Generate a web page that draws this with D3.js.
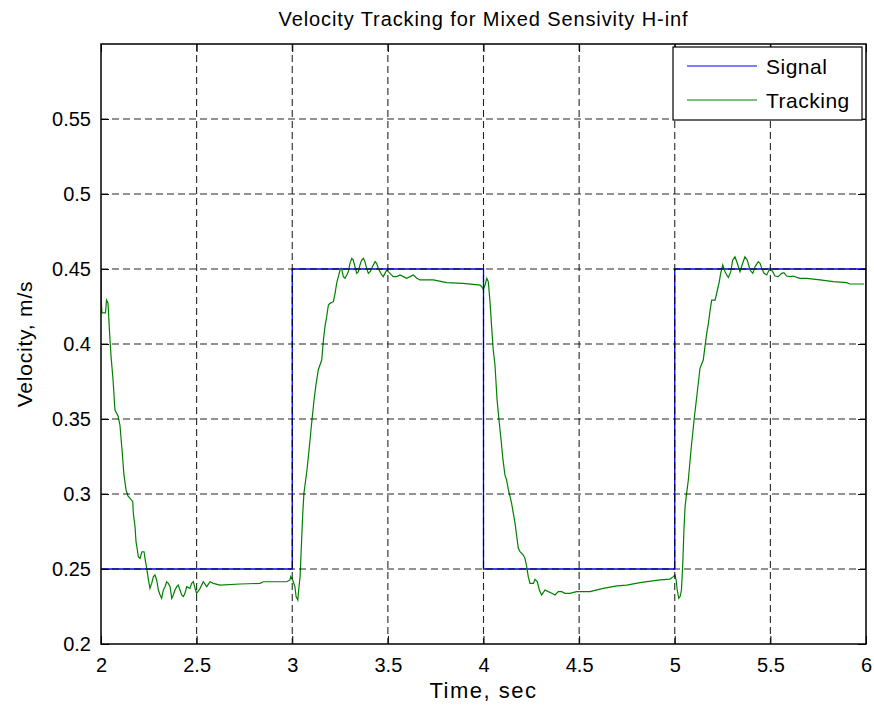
<!DOCTYPE html>
<html>
<head>
<meta charset="utf-8">
<script src="https://cdn.jsdelivr.net/npm/d3@7"></script>
<style>
  body { margin: 0; background: #fff; }
  svg { display: block; font-family: "Liberation Sans", Arial, sans-serif; }
</style>
</head>
<body>
<div id="chart"></div>
<script>
var width = 874,
    height = 707;

// reference signal (square wave)
var signalT = [2, 3, 3, 4, 4, 5, 5, 6, 6];
var signalV = [0.25, 0.25, 0.45, 0.45, 0.25, 0.25, 0.45, 0.45, 0.25];

// controller tracking response
var trackT = [2.000, 2.0005, 2.005, 2.0235, 2.029, 2.0366, 2.044, 2.052, 2.063, 2.073, 2.089, 2.099, 2.110, 2.120, 2.131, 2.141,
  2.152, 2.166, 2.169, 2.178, 2.183, 2.190, 2.195, 2.204, 2.214, 2.225, 2.230, 2.239, 2.248, 2.256, 2.265, 2.274, 2.282, 2.291,
  2.300, 2.309, 2.317, 2.326, 2.335, 2.343, 2.352, 2.361, 2.370, 2.378, 2.387, 2.396, 2.404, 2.413, 2.422, 2.431, 2.439, 2.448,
  2.465, 2.474, 2.483, 2.492, 2.500, 2.518, 2.535, 2.553, 2.570, 2.587, 2.622, 2.727, 2.831, 2.849, 2.971, 2.988, 2.992, 3.002,
  3.014, 3.020, 3.029, 3.032, 3.041, 3.049, 3.055, 3.061, 3.077, 3.093, 3.103, 3.114, 3.124, 3.136, 3.154, 3.163, 3.171, 3.180,
  3.189, 3.197, 3.215, 3.224, 3.232, 3.241, 3.250, 3.258, 3.267, 3.276, 3.285, 3.293, 3.302, 3.311, 3.319, 3.328, 3.337, 3.346,
  3.354, 3.363, 3.372, 3.380, 3.389, 3.398, 3.407, 3.415, 3.424, 3.433, 3.441, 3.450, 3.459, 3.468, 3.476, 3.485, 3.494, 3.502,
  3.511, 3.528, 3.546, 3.563, 3.581, 3.598, 3.616, 3.633, 3.651, 3.668, 3.738, 3.808, 3.894, 3.982, 3.991, 3.999, 4.008, 4.017,
  4.025, 4.034, 4.043, 4.051, 4.060, 4.071, 4.081, 4.092, 4.102, 4.112, 4.121, 4.130, 4.139, 4.147, 4.156, 4.165, 4.174, 4.182,
  4.191, 4.208, 4.217, 4.226, 4.234, 4.243, 4.261, 4.269, 4.281, 4.292, 4.304, 4.322, 4.339, 4.357, 4.374, 4.391, 4.409, 4.426,
  4.452, 4.487, 4.557, 4.626, 4.697, 4.749, 4.818, 4.923, 4.975, 4.993, 5.001, 5.007, 5.013, 5.021, 5.028, 5.035, 5.042, 5.048,
  5.054, 5.062, 5.071, 5.085, 5.101, 5.116, 5.132, 5.149, 5.158, 5.167, 5.176, 5.184, 5.193, 5.211, 5.223, 5.233, 5.240, 5.251,
  5.263, 5.272, 5.280, 5.293, 5.303, 5.315, 5.327, 5.341, 5.355, 5.367, 5.379, 5.394, 5.408, 5.420, 5.437, 5.446, 5.455, 5.467,
  5.481, 5.489, 5.498, 5.512, 5.524, 5.541, 5.559, 5.571, 5.585, 5.603, 5.620, 5.638, 5.655, 5.690, 5.760, 5.829, 5.899, 5.916,
  5.990];
var trackV = [0.4507, 0.4293, 0.4207, 0.4207, 0.4293, 0.4273, 0.4093, 0.3927, 0.376, 0.356, 0.352, 0.346, 0.3293, 0.3127, 0.3027, 0.2987,
  0.2971, 0.2949, 0.2871, 0.2782, 0.2682, 0.2627, 0.2582, 0.2571, 0.2615, 0.2615, 0.2571, 0.2504, 0.2427, 0.2371, 0.2404, 0.2449, 0.246, 0.2427,
  0.236, 0.2327, 0.2304, 0.236, 0.2382, 0.2415, 0.2404, 0.2382, 0.2304, 0.2327, 0.236, 0.2382, 0.2393, 0.236, 0.2327, 0.2316, 0.2338, 0.2382,
  0.2371, 0.2404, 0.2415, 0.2371, 0.2338, 0.2371, 0.2415, 0.2382, 0.2415, 0.2404, 0.2393, 0.240, 0.2404, 0.2415, 0.2415, 0.2427, 0.2449, 0.2427,
  0.2382, 0.2316, 0.2293, 0.2338, 0.2449, 0.2693, 0.2871, 0.3004, 0.316, 0.336, 0.3493, 0.3627, 0.3727, 0.3827, 0.3893, 0.4027, 0.4116, 0.4182,
  0.426, 0.4271, 0.4282, 0.4338, 0.4404, 0.4449, 0.4493, 0.4504, 0.4449, 0.4438, 0.446, 0.4482, 0.4538, 0.4571, 0.456, 0.4515, 0.4471, 0.4482,
  0.4527, 0.456, 0.4571, 0.4549, 0.4504, 0.4471, 0.4482, 0.4504, 0.4527, 0.4549, 0.4538, 0.4504, 0.4482, 0.446, 0.4449, 0.4471, 0.4493, 0.4482,
  0.4471, 0.4449, 0.4449, 0.446, 0.4449, 0.4438, 0.4449, 0.446, 0.4438, 0.4427, 0.4427, 0.4409, 0.4404, 0.4393, 0.4382, 0.4364, 0.4393, 0.4438,
  0.4416, 0.4282, 0.4104, 0.396, 0.386, 0.3627, 0.3493, 0.336, 0.3227, 0.3127, 0.3093, 0.3027, 0.2982, 0.2938, 0.2871, 0.2804, 0.2716, 0.2638,
  0.2616, 0.2593, 0.2571, 0.2516, 0.2449, 0.2404, 0.2404, 0.2431, 0.2416, 0.236, 0.2327, 0.236, 0.2349, 0.2338, 0.2327, 0.2349, 0.2349, 0.2338,
  0.2338, 0.2349, 0.2349, 0.2371, 0.2387, 0.2393, 0.2409, 0.2427, 0.2433, 0.2449, 0.246, 0.2427, 0.236, 0.2304, 0.2316, 0.236, 0.2538, 0.276,
  0.2916, 0.3004, 0.3093, 0.3293, 0.3493, 0.366, 0.3838, 0.3893, 0.3982, 0.4071, 0.4138, 0.4216, 0.4293, 0.4293, 0.436, 0.4416, 0.4471, 0.4527,
  0.4482, 0.446, 0.4444, 0.4482, 0.456, 0.4582, 0.4538, 0.4482, 0.4538, 0.4582, 0.456, 0.4493, 0.4471, 0.4516, 0.4549, 0.4538, 0.4504, 0.4471,
  0.446, 0.4482, 0.4504, 0.4482, 0.4453, 0.4449, 0.4471, 0.4476, 0.4453, 0.4449, 0.4453, 0.4444, 0.4438, 0.4438, 0.4427, 0.4416, 0.4409, 0.44,
  0.44];

var xTicks = [2, 2.5, 3, 3.5, 4, 4.5, 5, 5.5, 6];
var yTicks = [0.2, 0.25, 0.3, 0.35, 0.4, 0.45, 0.5, 0.55];
var seriesNames = ["Signal", "Tracking"];
var seriesColors = ["#0000ff", "#008000"];

var margin = {top: 44, right: 8, bottom: 63, left: 101};
var plotW = width - margin.left - margin.right,
    plotH = height - margin.top - margin.bottom;

var svg = d3.select("#chart")
    .append("svg")
    .attr("width", width)
    .attr("height", height);

svg.append("rect").attr("width", width).attr("height", height).attr("fill", "#fff");

var g = svg.append("g")
    .attr("transform", "translate(" + margin.left + "," + margin.top + ")");

var x = d3.scaleLinear().domain([2, 6]).range([0, plotW]);
var y = d3.scaleLinear().domain([0.2, 0.6]).range([plotH, 0]);

g.append("clipPath").attr("id", "clip")
  .append("rect").attr("width", plotW).attr("height", plotH);

var line = d3.line()
    .x(function(d) { return x(d[0]); })
    .y(function(d) { return y(d[1]); });

var signal = signalT.map(function(t, i) { return [t, signalV[i]]; });
var track = trackT.map(function(t, i) { return [t, trackV[i]]; });

var data = g.append("g").attr("clip-path", "url(#clip)");
data.append("path").datum(signal)
    .attr("d", line).attr("fill", "none")
    .attr("stroke", seriesColors[0]).attr("stroke-width", 1.3);
data.append("path").datum(track)
    .attr("d", line).attr("fill", "none")
    .attr("stroke", seriesColors[1]).attr("stroke-width", 1.2);

// grid (dashed, drawn over the data like in the original)
var grid = g.append("g").attr("class", "grid")
    .attr("stroke", "#000").attr("stroke-width", 1.1)
    .attr("stroke-dasharray", "7,4").attr("opacity", 0.85);
grid.selectAll(".gx").data(xTicks.slice(1, -1)).enter().append("line")
    .attr("x1", function(d) { return x(d); }).attr("x2", function(d) { return x(d); })
    .attr("y1", 0).attr("y2", plotH);
grid.selectAll(".gy").data(yTicks.slice(1)).enter().append("line")
    .attr("y1", function(d) { return y(d); }).attr("y2", function(d) { return y(d); })
    .attr("x1", 0).attr("x2", plotW);

// axes with inward ticks
var tickLen = 8;
var xAxis = g.append("g").attr("transform", "translate(0," + plotH + ")")
    .call(d3.axisBottom(x).tickValues(xTicks).tickSize(-tickLen).tickPadding(14).tickFormat(d3.format("")));
var xAxisTop = g.append("g")
    .call(d3.axisTop(x).tickValues(xTicks).tickSize(-tickLen).tickFormat(""));
var yAxis = g.append("g")
    .call(d3.axisLeft(y).tickValues(yTicks).tickSize(-tickLen).tickPadding(10).tickFormat(d3.format("")));
var yAxisRight = g.append("g").attr("transform", "translate(" + plotW + ",0)")
    .call(d3.axisRight(y).tickValues(yTicks).tickSize(-tickLen).tickFormat(""));

[xAxis, xAxisTop, yAxis, yAxisRight].forEach(function(a) {
  a.select(".domain").remove();
  a.selectAll("line").attr("stroke", "#000");
  a.selectAll("text").attr("fill", "#000").style("font-size", "20px")
    .style("font-family", "'Liberation Sans', Arial, sans-serif");
});

g.append("rect").attr("width", plotW).attr("height", plotH)
    .attr("fill", "none").attr("stroke", "#000").attr("stroke-width", 1.5);

// title and labels
svg.append("text")
    .attr("x", margin.left + plotW / 2).attr("y", 26)
    .attr("text-anchor", "middle").style("font-size", "20px")
    .style("letter-spacing", "0.9px")
    .text("Velocity Tracking for Mixed Sensivity H-inf");

svg.append("text")
    .attr("x", margin.left + plotW / 2).attr("y", 698)
    .attr("text-anchor", "middle").style("font-size", "22px")
    .style("letter-spacing", "1.5px")
    .text("Time, sec");

svg.append("text")
    .attr("transform", "translate(32," + (margin.top + plotH / 2) + ") rotate(-90)")
    .attr("text-anchor", "middle").style("font-size", "21px")
    .style("letter-spacing", "0.8px")
    .text("Velocity, m/s");

// legend
var legend = svg.append("g").attr("transform", "translate(673,47)");
legend.append("rect").attr("width", 189).attr("height", 73)
    .attr("fill", "#fff").attr("stroke", "#000").attr("stroke-width", 1.2);
var items = legend.selectAll(".item").data(seriesNames).enter().append("g")
    .attr("transform", function(d, i) { return "translate(0," + (19 + i * 34) + ")"; });
items.append("line").attr("x1", 14).attr("x2", 84).attr("y1", 0).attr("y2", 0)
    .attr("stroke", function(d, i) { return seriesColors[i]; }).attr("stroke-width", 1.2);
items.append("text").attr("x", 93).attr("y", 8)
    .style("font-size", "21px").style("letter-spacing", "0.5px")
    .text(function(d) { return d; });
</script>
</body>
</html>
